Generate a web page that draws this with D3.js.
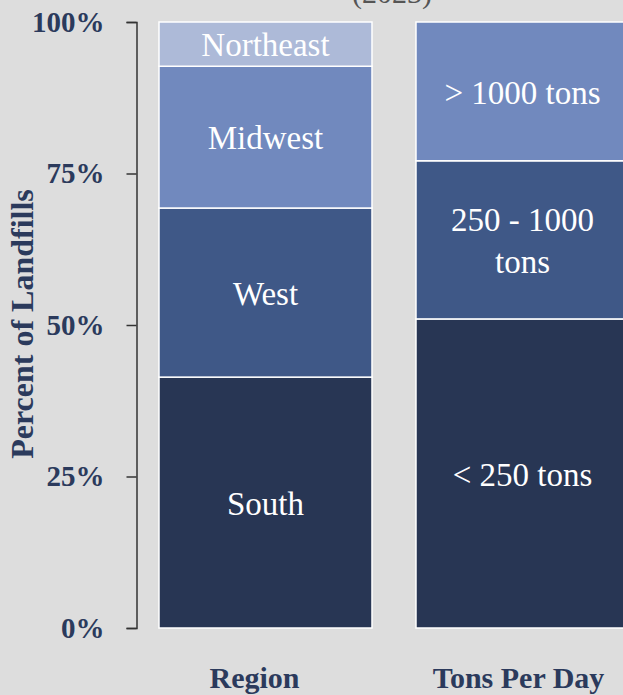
<!DOCTYPE html>
<html><head><meta charset="utf-8">
<script src="https://cdn.jsdelivr.net/npm/d3@7"></script>
<style>
html,body{margin:0;padding:0;background:#dddddd;}
svg{display:block;}
</style></head>
<body>
<svg id="chart" width="623" height="695"></svg>
<script>
// ---- data ----
const categories = ["Region", "Tons Per Day"];
const regionLabels = ["South", "West", "Midwest", "Northeast"];
const regionValues = [41.4, 27.9, 23.4, 7.3];
const tonsLabels = ["< 250 tons", "250 - 1000\ntons", "> 1000 tons"];
const tonsValues = [51.0, 26.1, 22.9];
const yTicks = [0, 25, 50, 75, 100];
const yTickLabels = ["0%", "25%", "50%", "75%", "100%"];
const titleText = "(2023)";
const yAxisTitle = "Percent of Landfills";

// ---- styles ----
const navy = "#2b3a5c";
const regionColors = ["#283654", "#3f5887", "#7189be", "#adbad8"];
const tonsColors = ["#283654", "#3f5887", "#7189be"];
const serif = "'Liberation Serif', 'Times New Roman', serif";

const svg = d3.select("#chart");
const axisX = 136.5;
const y = d3.scaleLinear().domain([0, 100]).range([628, 22]);
const x = d3.scaleBand().domain(categories)
  .range([axisX, axisX + 257 * 2.0038]).paddingInner(0.1712).paddingOuter(0.0875);

// title (cut off at top, as in the reference)
svg.append("text").attr("x", 392).attr("y", 3).attr("text-anchor", "middle")
  .attr("font-family", serif).attr("font-size", 30).attr("fill", "#555")
  .text(titleText);

// stacked bars
function stack(vals) {
  let acc = 0;
  return vals.map(v => { const s = {y0: acc, y1: acc + v}; acc += v; return s; });
}
const groups = [
  {cat: "Region", labels: regionLabels, segs: stack(regionValues), colors: regionColors},
  {cat: "Tons Per Day", labels: tonsLabels, segs: stack(tonsValues), colors: tonsColors}
];

groups.forEach(g => {
  const gg = svg.append("g");
  gg.selectAll("rect").data(g.segs).join("rect")
    .attr("x", x(g.cat)).attr("width", x.bandwidth())
    .attr("y", d => y(d.y1)).attr("height", d => y(d.y0) - y(d.y1))
    .attr("fill", (d, i) => g.colors[i])
    .attr("stroke", "#ffffff").attr("stroke-width", 1.5);
  g.segs.forEach((s, i) => {
    const lines = g.labels[i].split("\n");
    const cy = (y(s.y0) + y(s.y1)) / 2;
    const lh = 42;
    const t = gg.append("text").attr("text-anchor", "middle")
      .attr("font-family", serif).attr("font-size", 33).attr("fill", "#ffffff");
    lines.forEach((ln, k) => {
      t.append("tspan").attr("x", x(g.cat) + x.bandwidth() / 2)
        .attr("y", cy + (k - (lines.length - 1) / 2) * lh)
        .attr("dy", "0.37em").text(ln);
    });
  });
});

// y axis
const yAxis = d3.axisLeft(y).tickValues(yTicks)
  .tickFormat((d, i) => yTickLabels[i]).tickSize(10).tickPadding(22);
const ag = svg.append("g").attr("transform", `translate(${axisX},0)`).call(yAxis);
ag.select(".domain").attr("stroke", "#333").attr("stroke-width", 1.5);
ag.selectAll(".tick line").attr("stroke", "#333").attr("stroke-width", 1.5);
ag.selectAll(".tick text").attr("font-family", serif).attr("font-size", 29)
  .attr("font-weight", "bold").attr("fill", navy);

// y axis title
svg.append("text").attr("transform", "translate(33,324) rotate(-90)")
  .attr("text-anchor", "middle").attr("font-family", serif).attr("font-size", 32)
  .attr("font-weight", "bold").attr("fill", navy).text(yAxisTitle);

// category labels
const catShift = {"Region": -11, "Tons Per Day": -4};
svg.selectAll(".cat").data(categories).join("text").attr("class", "cat")
  .attr("x", d => x(d) + x.bandwidth() / 2 + catShift[d]).attr("y", 688)
  .attr("text-anchor", "middle").attr("font-family", serif).attr("font-size", 30)
  .attr("font-weight", "bold").attr("fill", navy)
  .text(d => d);
</script>
</body></html>
